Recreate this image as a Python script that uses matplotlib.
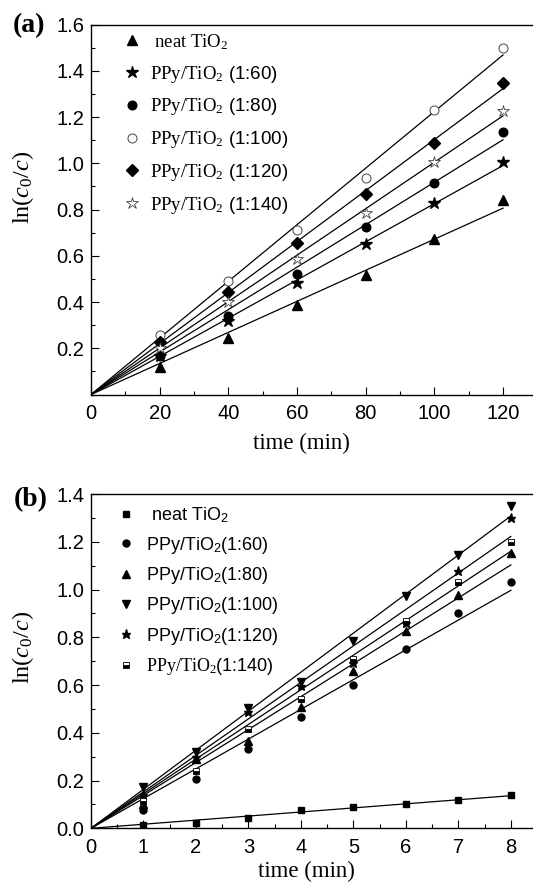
import numpy as np
import matplotlib
matplotlib.use("Agg")
import matplotlib.pyplot as plt
from matplotlib.ticker import MultipleLocator

plt.rcParams['font.family'] = ['Liberation Sans', 'DejaVu Sans']
plt.rcParams['mathtext.fontset'] = 'custom'
plt.rcParams['mathtext.rm'] = 'Liberation Serif'
plt.rcParams['mathtext.it'] = 'Liberation Serif:italic'
plt.rcParams['mathtext.sf'] = 'Liberation Sans'

# ---------------- data: panel (a) ----------------
time_a = [20, 40, 60, 80, 100, 120]
a_neat = [0.12, 0.243, 0.385, 0.515, 0.672, 0.84]
a_160 = [0.165, 0.316, 0.484, 0.65, 0.828, 1.005]
a_180 = [0.168, 0.341, 0.522, 0.726, 0.915, 1.135]
a_1100 = [0.256, 0.49, 0.71, 0.938, 1.23, 1.50]
a_1120 = [0.229, 0.445, 0.655, 0.865, 1.087, 1.347]
a_1140 = [0.20, 0.40, 0.584, 0.785, 1.007, 1.225]
labels_a = [r'$\mathrm{\ neat\ TiO_2}$',
            r'$\mathrm{PPy/TiO_2}$ (1:60)',
            r'$\mathrm{PPy/TiO_2}$ (1:80)',
            r'$\mathrm{PPy/TiO_2}$ (1:100)',
            r'$\mathrm{PPy/TiO_2}$ (1:120)',
            r'$\mathrm{PPy/TiO_2}$ (1:140)']
xticks_a = [0, 20, 40, 60, 80, 100, 120]
yticks_a = [0.2, 0.4, 0.6, 0.8, 1.0, 1.2, 1.4, 1.6]

# ---------------- data: panel (b) ----------------
time_b = [1, 2, 3, 4, 5, 6, 7, 8]
b_neat = [0.014, 0.024, 0.042, 0.075, 0.089, 0.102, 0.118, 0.139]
b_160 = [0.078, 0.205, 0.333, 0.467, 0.599, 0.75, 0.90, 1.033]
b_180 = [0.10, 0.29, 0.366, 0.509, 0.659, 0.827, 0.977, 1.152]
b_1100 = [0.175, 0.32, 0.502, 0.614, 0.786, 0.973, 1.144, 1.35]
b_1120 = [0.14, 0.30, 0.488, 0.597, 0.694, 0.861, 1.079, 1.298]
b_1140 = [0.115, 0.241, 0.414, 0.541, 0.709, 0.868, 1.033, 1.200]
labels_b = [r' neat TiO$_\mathsf{2}$',
            r'PPy/TiO$_\mathsf{2}$(1:60)',
            r'PPy/TiO$_\mathsf{2}$(1:80)',
            r'PPy/TiO$_\mathsf{2}$(1:100)',
            r'PPy/TiO$_\mathsf{2}$(1:120)',
            r'$\mathrm{PPy/TiO_2}$(1:140)']
xticks_b = [0, 1, 2, 3, 4, 5, 6, 7, 8]
yticks_b = [0.0, 0.2, 0.4, 0.6, 0.8, 1.0, 1.2, 1.4]

W, H = 533, 883
fig = plt.figure(figsize=(W / 100, H / 100), dpi=100)

def fx(px):
    return px / W

def fy(py):
    return 1 - py / H

ax_a = fig.add_axes([fx(91), fy(394.5), fx(533 - 91) + 0.01, (394.5 - 24.5) / H])
ax_b = fig.add_axes([fx(91), fy(828.3), fx(533 - 91) + 0.01, (828.3 - 494) / H])

def fit_line(ax, t, y, xmax):
    t = np.asarray(t, float)
    y = np.asarray(y, float)
    k = np.sum(t * y) / np.sum(t * t)
    xs = np.array([0, xmax])
    ax.plot(xs, k * xs, color='black', lw=0.9, zorder=2)

styles_a = [
    dict(marker='^', ms=7.5, mfc='black', mec='black'),
    dict(marker='*', ms=9, mfc='black', mec='black'),
    dict(marker='o', ms=6.2, mfc='black', mec='black'),
    dict(marker='o', ms=6.5, mfc='white', mec='#444444', mew=0.7),
    dict(marker='D', ms=6.0, mfc='black', mec='black'),
    dict(marker='*', ms=9, mfc='white', mec='#444444', mew=0.6),
]
series_a = [a_neat, a_160, a_180, a_1100, a_1120, a_1140]
for ys, st, lab in zip(series_a, styles_a, labels_a):
    fit_line(ax_a, time_a, ys, 120)
    ax_a.plot(time_a, ys, ls='none', label=lab, zorder=3, **st)

styles_b = [
    dict(marker='s', ms=4.2, mfc='black', mec='black'),
    dict(marker='o', ms=5, mfc='black', mec='black'),
    dict(marker='^', ms=5.5, mfc='black', mec='black'),
    dict(marker='v', ms=5.5, mfc='black', mec='black'),
    dict(marker='*', ms=6.5, mfc='black', mec='black'),
    dict(marker='s', ms=4.5, mfc='black', mec='black', fillstyle='bottom',
         markerfacecoloralt='white', mew=0.6),
]
series_b = [b_neat, b_160, b_180, b_1100, b_1120, b_1140]
for ys, st, lab in zip(series_b, styles_b, labels_b):
    fit_line(ax_b, time_b, ys, 8)
    ax_b.plot(time_b, ys, ls='none', label=lab, zorder=3, **st)

# axes styling
ax_a.set_xlim(0, (533 - 91) / 3.4725 + 3)
ax_a.set_ylim(0, 1.6)
ax_b.set_xlim(0, (533 - 91) / 53.1 + 0.2)
ax_b.set_ylim(0, 1.4)

for ax, xt, yt, xminor, yminor in [(ax_a, xticks_a, yticks_a, 10, 0.1),
                                    (ax_b, xticks_b, yticks_b, 0.5, 0.1)]:
    ax.set_xticks(xt)
    ax.set_yticks(yt)
    ax.xaxis.set_minor_locator(MultipleLocator(xminor))
    ax.yaxis.set_minor_locator(MultipleLocator(yminor))
    ax.tick_params(which='major', direction='in', length=5.5, width=0.8,
                   labelsize=14.5, top=False, right=False)
    ax.tick_params(which='minor', direction='in', length=2.8, width=0.8,
                   top=False, right=False)
    ax.tick_params(axis='x', which='major', pad=7)
    ax.tick_params(axis='y', which='major', pad=5)
    ax.spines['right'].set_visible(False)
    for s in ['left', 'bottom', 'top']:
        ax.spines[s].set_linewidth(1.0)
    ax.yaxis.set_major_formatter(matplotlib.ticker.FormatStrFormatter('%.1f'))

ax_a.set_xticklabels([str(v) for v in xticks_a])
ax_b.set_xticklabels([str(v) for v in xticks_b])

lab_font = dict(family='Liberation Serif', size=16.5)
ax_a.set_xlabel('time (min)', fontdict=lab_font)
ax_b.set_xlabel('time (min)', fontdict=lab_font)
ax_a.xaxis.set_label_coords((299 - 91) / 442, -0.105)
ax_b.xaxis.set_label_coords((304 - 91) / 442, -0.097)
ylab = r'$\mathrm{ln(}c_0/c\mathrm{)}$'
ax_a.set_ylabel(ylab, fontsize=17.5)
ax_b.set_ylabel(ylab, fontsize=17.5)
ax_a.yaxis.set_label_coords(-0.124, 0.56)
ax_b.yaxis.set_label_coords(-0.124, 0.54)

leg_a = ax_a.legend(loc='upper left', bbox_to_anchor=(fx(123), fy(32)),
                    bbox_transform=fig.transFigure, frameon=False,
                    fontsize=13.5, handlelength=1.0, handletextpad=0.45,
                    borderpad=0, borderaxespad=0, labelspacing=0.63,
                    numpoints=1)
leg_b = ax_b.legend(loc='upper left', bbox_to_anchor=(fx(116.8), fy(505.5)),
                    bbox_transform=fig.transFigure, frameon=False,
                    fontsize=13, handlelength=1.0, handletextpad=0.62,
                    borderpad=0, borderaxespad=0, labelspacing=0.52,
                    numpoints=1)

fig.text(fx(13), fy(26), '(a)', family='Liberation Serif', weight='bold',
         fontsize=20, va='center', ha='left')
fig.text(fx(14), fy(500), '(b)', family='Liberation Serif', weight='bold',
         fontsize=20, va='center', ha='left')

fig.savefig('out.png', dpi=100)
